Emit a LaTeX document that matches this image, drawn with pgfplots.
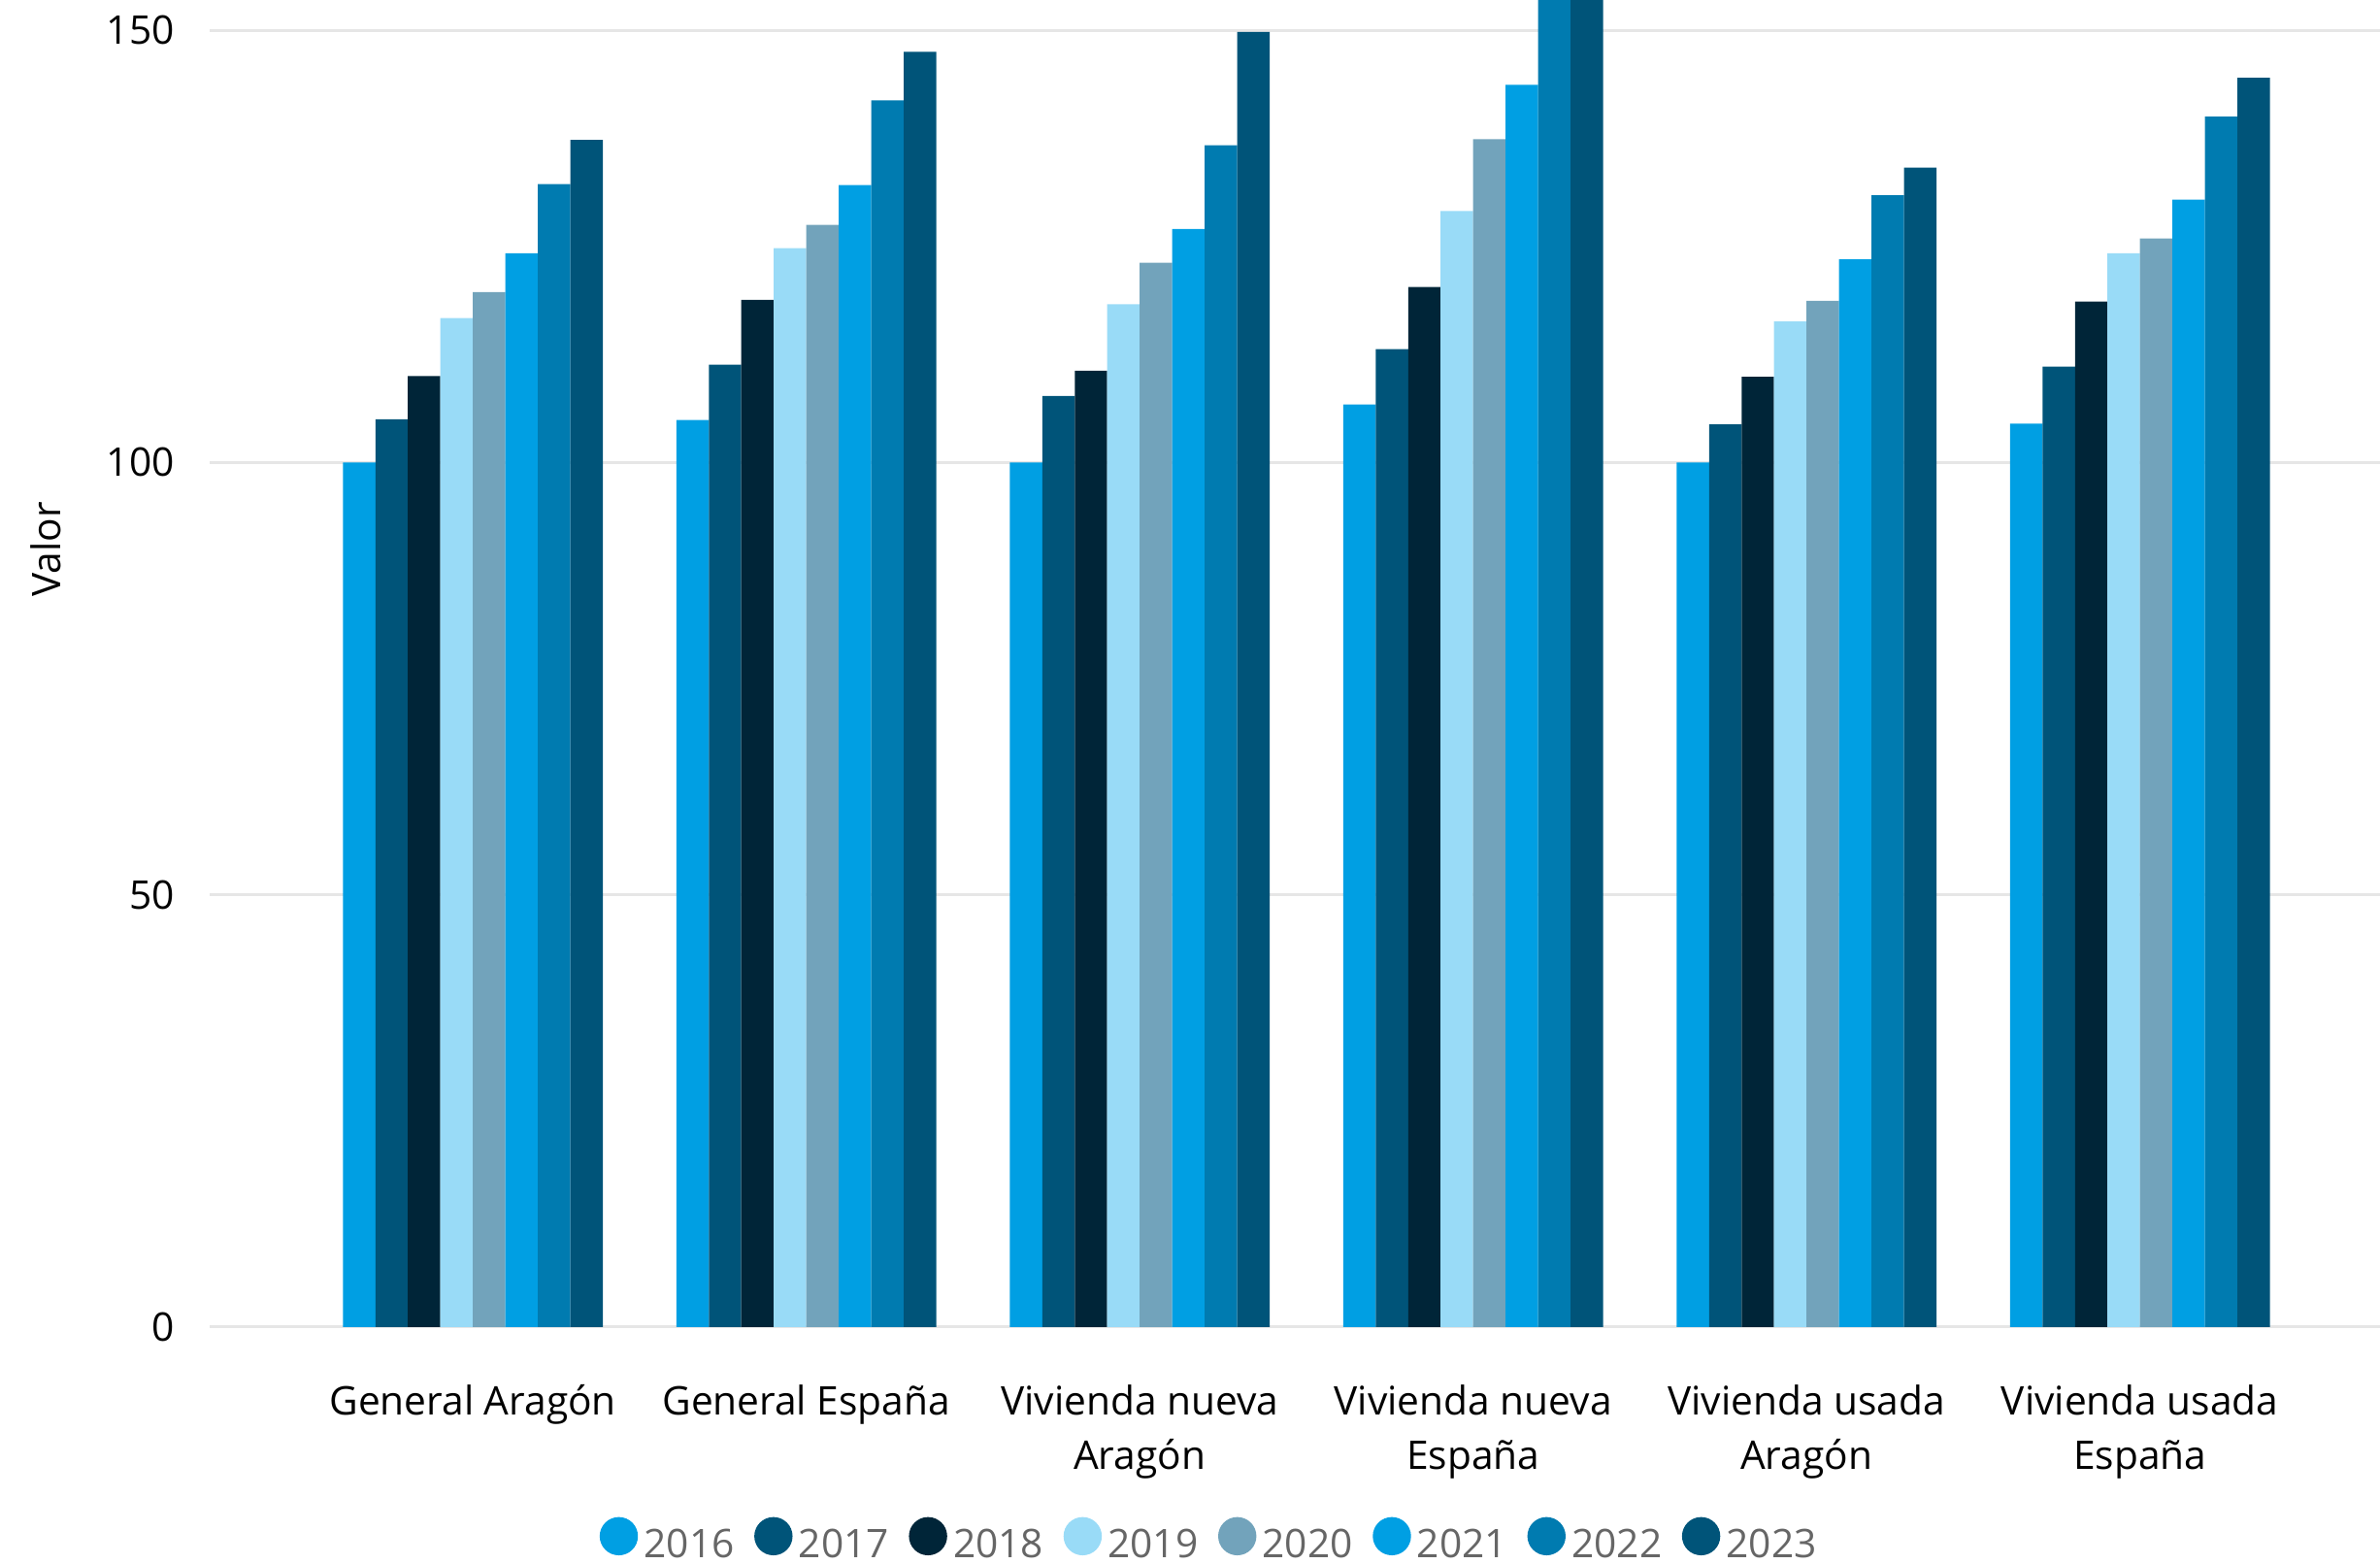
\documentclass[border=0pt]{standalone}
\usepackage{pgfplots}
\pgfplotsset{compat=1.18}
\usepackage{fontspec}
\setmainfont{Open Sans}
\definecolor{c16}{HTML}{009FE3}
\definecolor{c17}{HTML}{005479}
\definecolor{c18}{HTML}{002538}
\definecolor{c19}{HTML}{99DBF7}
\definecolor{c20}{HTML}{72A3BB}
\definecolor{c21}{HTML}{009FE3}
\definecolor{c22}{HTML}{007BB0}
\definecolor{c23}{HTML}{005479}
\definecolor{gridc}{HTML}{E6E6E6}
\definecolor{legtext}{HTML}{666666}
\begin{document}
\begin{tikzpicture}
\path[use as bounding box] (0,0) rectangle (784pt,515pt);
\begin{axis}[
  at={(69pt,78pt)}, anchor=south west,
  scale only axis, width=715pt, height=437pt,
  ybar=0pt, bar width=10.7pt,
  xmin=-0.79, xmax=5.72, ymin=0, ymax=153.5,
  xtick={0,1,2,3,4,5},
  xticklabels={General Aragón, General España, {Vivienda nueva\\Aragón}, {Vivienda nueva\\España}, {Vivienda usada\\Aragón}, {Vivienda usada\\España}},
  ytick={0,50,100,150},
  axis line style={draw=none},
  major tick length=0pt,
  ymajorgrids, grid style={gridc, line width=1pt},
  /pgf/number format/assume math mode=true,
  tick label style={font=\fontsize{13}{18}\selectfont, text=black},
  xticklabel style={align=center, yshift=-15.5pt},
  yticklabel style={xshift=-8pt},
  ylabel={Valor},
  ylabel style={at={(axis description cs:-0.0755,0.586)}, anchor=center, font=\fontsize{13}{16}\selectfont},
  legend columns=8,
  legend style={draw=none, fill=none, at={(0.4615,-0.1625)}, anchor=center,
    font=\fontsize{13}{16}\selectfont, text=legtext,
    nodes={inner xsep=2pt},
    /tikz/every odd column/.append style={column sep=0pt},
    /tikz/every even column/.append style={column sep=4.6pt},
    inner sep=0pt},
  legend image code/.code={\fill[#1, draw=none] (6.3pt,0.3em) circle (6.3pt);},
]
\addplot[fill=c16, draw=none] coordinates {(0,100) (1,104.9) (2,100) (3,106.7) (4,100) (5,104.5)};
\addplot[fill=c17, draw=none] coordinates {(0,105.0) (1,111.3) (2,107.7) (3,113.1) (4,104.4) (5,111.1)};
\addplot[fill=c18, draw=none] coordinates {(0,110.0) (1,118.8) (2,110.6) (3,120.3) (4,109.9) (5,118.6)};
\addplot[fill=c19, draw=none] coordinates {(0,116.7) (1,124.8) (2,118.3) (3,129.1) (4,116.3) (5,124.2)};
\addplot[fill=c20, draw=none] coordinates {(0,119.7) (1,127.5) (2,123.1) (3,137.4) (4,118.7) (5,125.9)};
\addplot[fill=c21, draw=none] coordinates {(0,124.2) (1,132.1) (2,127.0) (3,143.7) (4,123.5) (5,130.4)};
\addplot[fill=c22, draw=none] coordinates {(0,132.2) (1,141.9) (2,136.7) (3,155.0) (4,130.9) (5,140.0)};
\addplot[fill=c23, draw=none] coordinates {(0,137.3) (1,147.5) (2,149.8) (3,158.0) (4,134.1) (5,144.5)};
\legend{2016,2017,2018,2019,2020,2021,2022,2023}
\end{axis}
\end{tikzpicture}
\end{document}
